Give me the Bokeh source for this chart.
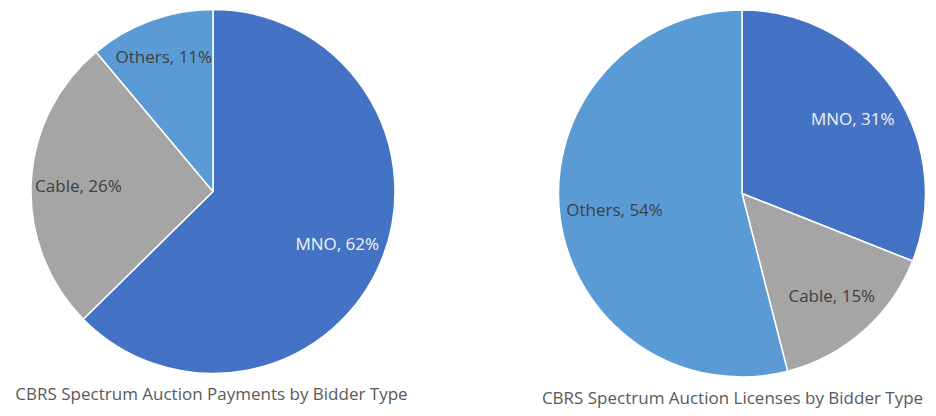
import numpy as np
from bokeh.plotting import figure
from bokeh.models import Range1d
from bokeh.core.properties import value
from bokeh.embed import file_html
from bokeh.resources import INLINE

# data (clockwise from 12 o'clock)
categories = ["MNO", "Cable", "Others"]
payments_pct = [62, 26, 11]
licenses_pct = [31, 15, 54]
slice_colors = ["#4472C4", "#A5A5A5", "#5B9BD5"]
label_colors = ["#F2F2F2", "#404040", "#404040"]
titles = ["CBRS Spectrum Auction Payments by Bidder Type",
          "CBRS Spectrum Auction Licenses by Bidder Type"]

W, H = 936, 416
p = figure(width=W, height=H, x_range=Range1d(0, W), y_range=Range1d(0, H),
           output_backend="svg", toolbar_location=None, min_border=0)
p.axis.visible = False
p.grid.visible = False
p.outline_line_color = None
p.background_fill_color = "white"

FONT = "Open Sans"


def draw_pie(vals, cx, cy, r, title, tx, ty, lab_r):
    vals = np.array(vals, dtype=float)
    frac = vals / vals.sum()
    cum = np.concatenate([[0], np.cumsum(frac)])
    start = np.pi / 2 - cum[:-1] * 2 * np.pi
    end = np.pi / 2 - cum[1:] * 2 * np.pi
    p.wedge(x=cx, y=cy, radius=r, start_angle=start, end_angle=end,
            direction="clock", fill_color=slice_colors,
            line_color="white", line_width=1.5)
    # labels sit on the middle angle of each slice
    mid = (start + end) / 2
    lx = cx + np.array(lab_r) * r * np.cos(mid)
    ly = cy + np.array(lab_r) * r * np.sin(mid)
    labels = ["%s, %d%%" % (c, v) for c, v in zip(categories, vals)]
    p.text(x=lx, y=ly, text=labels, text_color=label_colors,
           text_font=value(FONT), text_font_size="17px",
           text_align="center", text_baseline="middle")
    p.text(x=[tx], y=[ty], text=[title], text_color="#595959",
           text_font=value(FONT), text_font_size="17px",
           text_align="center", text_baseline="middle")


draw_pie(payments_pct, 212.5, 225, 182, titles[0], 211, 23, [0.74, 0.74, 0.79])
draw_pie(licenses_pct, 741.5, 223, 183.5, titles[1], 732, 19, [0.73, 0.74, 0.70])

open("out.html", "w").write(file_html(p, INLINE))
